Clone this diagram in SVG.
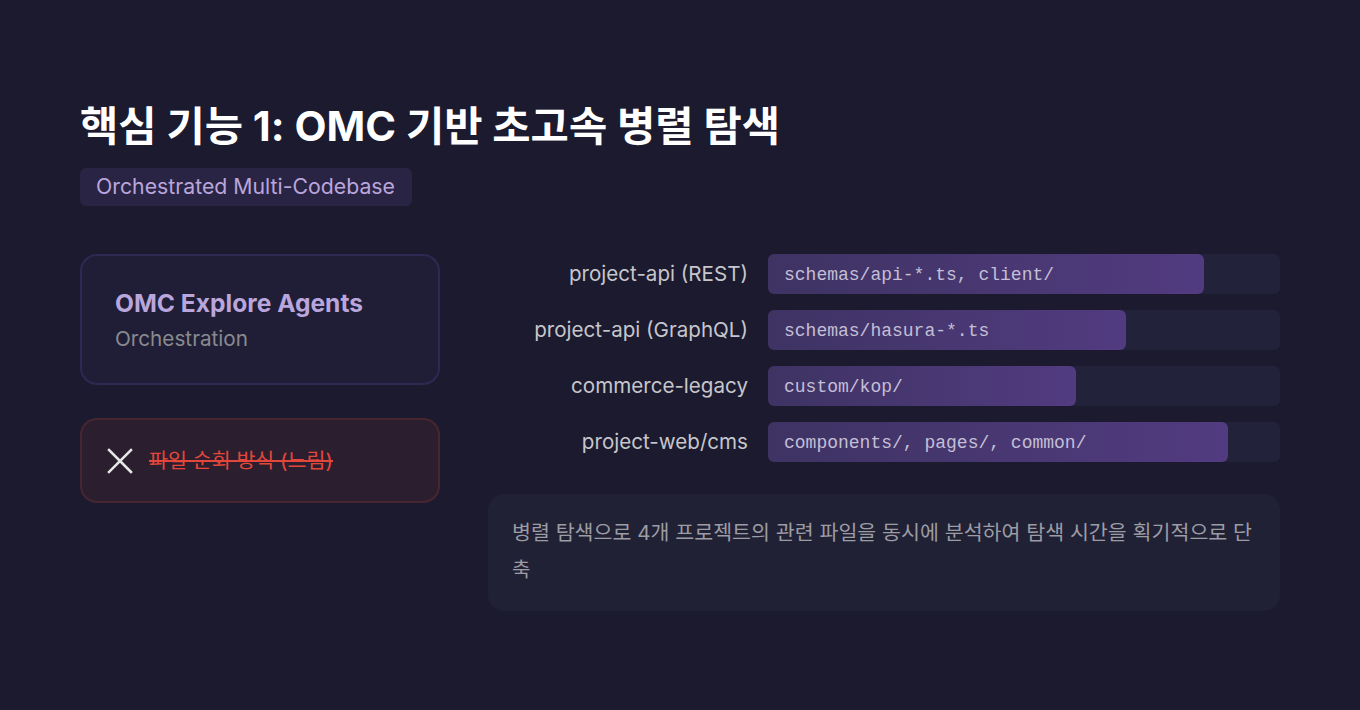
<svg xmlns="http://www.w3.org/2000/svg" width="1360" height="710" viewBox="0 0 1360 710">
<defs>
<linearGradient id="barg" x1="0" y1="0" x2="1" y2="0">
<stop offset="0" stop-color="#3e3363"/>
<stop offset="1" stop-color="#523b80"/>
</linearGradient>
<style>
.t{font-family:Inter,"Noto Sans CJK KR","Noto Sans",sans-serif}
.lbl{font-family:Inter,"Noto Sans",sans-serif;font-size:20.6px;fill:#c6c6cc;text-anchor:end}
.mono{font-family:"Liberation Mono","DejaVu Sans Mono",monospace;font-size:18px;fill:#c4bfd6}
.track{fill:#22223a}
.bar{fill:url(#barg)}
</style>
</defs>
<rect width="1360" height="710" fill="#1b1a2e"/>
<g id="title">
<text class="t" x="80" y="141" font-size="41" font-weight="700" fill="#ffffff" textLength="700" lengthAdjust="spacingAndGlyphs">핵심 기능 1: OMC 기반 초고속 병렬 탐색</text>
</g>
<g id="tag">
<rect x="80" y="168" width="332" height="38" rx="6" fill="#2a2444"/>
<text class="t" x="96" y="194" font-size="21" fill="#b9a6dc" textLength="299" lengthAdjust="spacingAndGlyphs">Orchestrated Multi-Codebase</text>
</g>
<g id="card-agents">
<rect x="81" y="255" width="358" height="129" rx="16" fill="#201e37" stroke="#2e2852" stroke-width="2"/>
<text class="t" x="115" y="312" font-size="24.5" font-weight="700" fill="#b9a6dc" textLength="248" lengthAdjust="spacingAndGlyphs">OMC Explore Agents</text>
<text class="t" x="115" y="346" font-size="20.5" fill="#8a8a8e" textLength="133" lengthAdjust="spacingAndGlyphs">Orchestration</text>
</g>
<g id="card-slow">
<rect x="81" y="419" width="358" height="83" rx="16" fill="#2b1f2f" stroke="#472631" stroke-width="2"/>
<path d="M109 450 L131 472 M131 450 L109 472" stroke="#e6e6e6" stroke-width="2.5" stroke-linecap="square"/>
<text class="t" x="149" y="468" font-size="20" fill="#e5463a" textLength="184" lengthAdjust="spacingAndGlyphs">파일 순회 방식 (느림)</text>
<line x1="149" y1="461" x2="333" y2="461" stroke="#e5463a" stroke-width="2"/>
</g>
<g id="row-rest">
<text class="lbl" x="748" y="281">project-api (REST)</text>
<rect class="track" x="768" y="254" width="512" height="40" rx="6"/>
<rect class="bar" x="768" y="254" width="436" height="40" rx="6"/>
<text class="mono" x="784" y="280">schemas/api-*.ts, client/</text>
</g>
<g id="row-graphql">
<text class="lbl" x="748" y="337">project-api (GraphQL)</text>
<rect class="track" x="768" y="310" width="512" height="40" rx="6"/>
<rect class="bar" x="768" y="310" width="358" height="40" rx="6"/>
<text class="mono" x="784" y="336">schemas/hasura-*.ts</text>
</g>
<g id="row-legacy">
<text class="lbl" x="748" y="393">commerce-legacy</text>
<rect class="track" x="768" y="366" width="512" height="40" rx="6"/>
<rect class="bar" x="768" y="366" width="308" height="40" rx="6"/>
<text class="mono" x="784" y="392">custom/kop/</text>
</g>
<g id="row-web">
<text class="lbl" x="748" y="449">project-web/cms</text>
<rect class="track" x="768" y="422" width="512" height="40" rx="6"/>
<rect class="bar" x="768" y="422" width="460" height="40" rx="6"/>
<text class="mono" x="784" y="448">components/, pages/, common/</text>
</g>
<g id="note">
<rect x="488" y="494" width="792" height="117" rx="16" fill="#212136"/>
<text class="t" x="512" y="540" font-size="20" fill="#9c9ca4" textLength="740" lengthAdjust="spacingAndGlyphs">병렬 탐색으로 4개 프로젝트의 관련 파일을 동시에 분석하여 탐색 시간을 획기적으로 단</text>
<text class="t" x="512" y="577" font-size="20" fill="#9c9ca4">축</text>
</g>
<g id="connectors"></g>
</svg>
